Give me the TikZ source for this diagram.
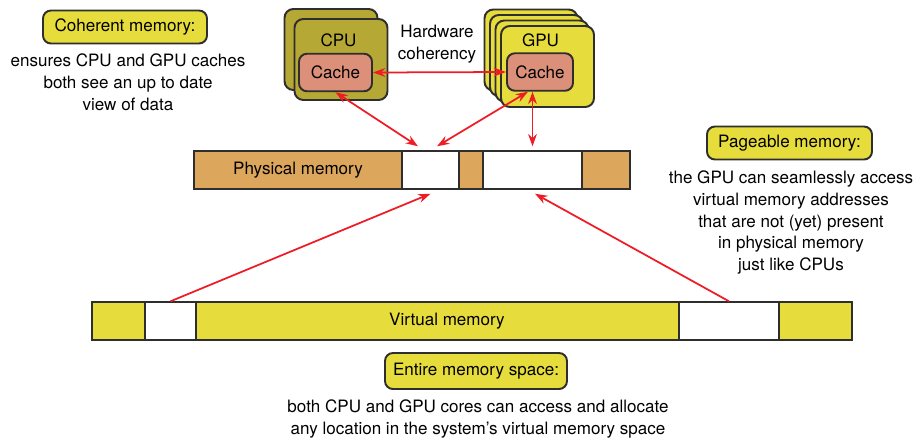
\documentclass[tikz,border=0pt]{standalone}
\usepackage{fontspec}
\setmainfont{TeX Gyre Heros}
\usepackage{tikz}
\usetikzlibrary{arrows.meta, positioning, calc}
\definecolor{physbrown}{HTML}{DCA65C}
\definecolor{virtyellow}{HTML}{E6DC3C}
\definecolor{cpuolive}{HTML}{B5A834}
\definecolor{cachepink}{HTML}{DC9079}
\definecolor{linkred}{HTML}{EE1D25}
\definecolor{edge}{HTML}{2E2E2E}

\begin{document}
\begin{tikzpicture}[x=0.02cm, y=-0.02cm,
    seg/.style={rectangle, draw=edge, line width=1.1pt, minimum height=0.75cm, inner sep=0pt},
    core/.style={rectangle, rounded corners=5pt, draw=edge, line width=1.1pt, minimum width=1.86cm, minimum height=1.62cm},
    cache/.style={rectangle, rounded corners=4.5pt, draw=edge, line width=1.1pt, fill=cachepink, minimum height=0.75cm, inner sep=0pt},
    tag/.style={rectangle, rounded corners=4.5pt, draw=edge, line width=1.1pt, fill=virtyellow, minimum height=0.66cm, inner sep=0pt},
    note/.style={align=center, inner sep=0pt},
    link/.style={{Stealth[length=7pt,width=5pt]}-{Stealth[length=7pt,width=5pt]}, draw=linkred, line width=1pt},
    map/.style={-{Stealth[length=7pt,width=5pt]}, draw=linkred, line width=1pt}]
    \fontsize{9.7}{12.4}\selectfont
    \useasboundingbox (0,0) rectangle (924,437);

    % Cores
    \node[core, fill=cpuolive] (cpuback) at (331,49.5) {};
    \node[core, fill=cpuolive] (cpu) at (341,59.5) {};
    \foreach \i in {0,...,3}
        \node[core, fill=virtyellow] (gpu\i) at (531+5.5*\i,50+5.5*\i) {};
    \node[note] (cpulbl) at (338.5,40) {CPU};
    \node[note] (gpulbl) at (540.5,40) {GPU};
    \node[cache, minimum width=1.46cm] (ccache) at (335.5,72.5) {Cache};
    \node[cache, minimum width=1.32cm] (gcache) at (540,72) {Cache};
    \node[note] (hwtxt) at (437,44) {Hardware\\ coherency};

    % Physical memory
    \node[seg, fill=physbrown, minimum width=4.16cm] (pm1) at (298,170) {Physical memory};
    \node[seg, fill=white, minimum width=1.14cm] (pw1) at (430.5,170) {};
    \node[seg, fill=physbrown, minimum width=0.48cm] (pm2) at (471,170) {};
    \node[seg, fill=white, minimum width=1.98cm] (pw2) at (532.5,170) {};
    \node[seg, fill=physbrown, minimum width=0.96cm] (pm3) at (606,170) {};

    % Virtual memory
    \node[seg, fill=virtyellow, minimum width=1.06cm] (vm1) at (118.5,321) {};
    \node[seg, fill=white, minimum width=1.02cm] (vw1) at (170.5,321) {};
    \node[seg, fill=virtyellow, minimum width=9.66cm] (vm2) at (437.5,321) {};
    \node[seg, fill=white, minimum width=2cm] (vw2) at (729,321) {};
    \node[seg, fill=virtyellow, minimum width=1.46cm] (vm3) at (815.5,321) {};
    \node[note] (vlbl) at (447,321) {Virtual memory};

    % Notes
    \node[tag, minimum width=3.28cm] (cohtag) at (125,27) {Coherent memory:};
    \node[note] (cohtxt) at (128,82) {ensures CPU and GPU caches\\ both see an up to date\\ view of data};
    \node[tag, minimum width=3.3cm] (pagetag) at (789.5,143) {Pageable memory:};
    \node[note] (pagetxt) at (791,222.5) {the GPU can seamlessly access\\ virtual memory addresses\\ that are not (yet) present\\ in physical memory\\ just like CPUs};
    \node[tag, minimum width=3.64cm, minimum height=0.72cm] (alltag) at (476,371) {Entire memory space:};
    \node[note] (alltxt) at (478,419) {both CPU and GPU cores can access and allocate\\ any location in the system's virtual memory space};

    % Arrows
    \draw[link] (ccache.east) -- (gcache.west);
    \draw[link] (ccache.south) -- ([xshift=-0.25cm, yshift=0.08cm]pw1.north);
    \draw[link] ([xshift=-0.24cm]gcache.south) -- ([xshift=0.13cm, yshift=0.08cm]pw1.north);
    \draw[link] (pw2.north |- gcache.south) -- ([yshift=0.08cm]pw2.north);
    \draw[map] (vw1.north) -- ([yshift=-0.08cm]pw1.south);
    \draw[map] (vw2.north) -- ([xshift=0.05cm, yshift=-0.08cm]pw2.south);

\end{tikzpicture}
\end{document}
